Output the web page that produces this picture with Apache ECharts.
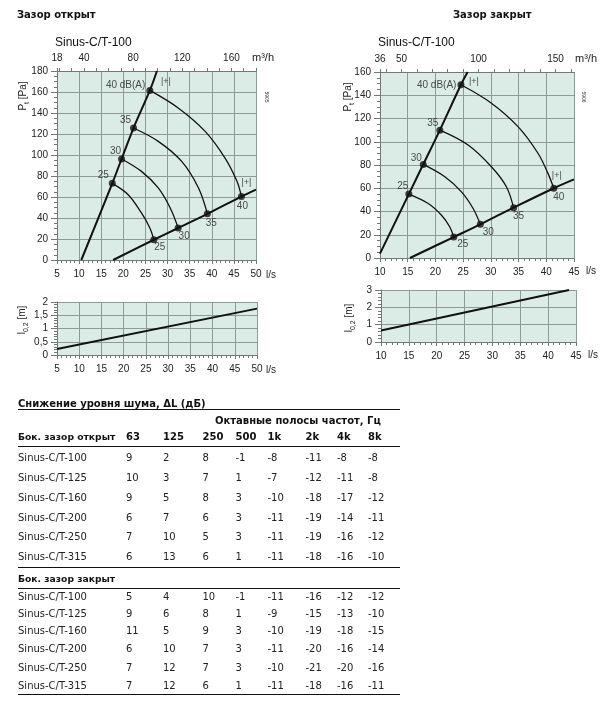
<!DOCTYPE html>
<html><head><meta charset="utf-8">
<script src="https://cdn.jsdelivr.net/npm/echarts@6/dist/echarts.min.js"></script>
<style>html,body{margin:0;padding:0;background:#fff}#c{width:612px;height:705px}</style>
</head><body><div id="c"></div>
<script>
// ---------- data ----------
const levels = [25, 30, 35, 40];
// open gap (Зазор открыт), l/s vs Pa
const openSteep = [[10.5,0],[17.5,73],[19.6,96.2],[22.3,125.7],[26.0,161.5],[27.6,180]];
const openLower = [[17.7,0],[26.9,19.3],[32.4,30.5],[39.0,44.0],[46.7,60.4],[50,67]];
const open25 = [[17.5,73],[21.1,62.2],[24.1,44.8],[26.0,30.5],[26.9,19.3]];
const open30 = [[19.6,96.2],[24.1,84.4],[27.9,68.6],[30.6,49.5],[32.4,30.5]];
const open35 = [[22.3,125.7],[27.9,113],[33.2,93.9],[37.0,68.6],[39.0,44.0]];
const open40 = [[26.0,161.5],[32.4,144.8],[38.5,122.5],[43.0,97.1],[45.7,74.9],[46.7,60.4]];
const openThrow = [[5,0.23],[50,1.75]];
// closed gap (Зазор закрыт)
const closedSteep = [[10,3.8],[15.2,55],[17.8,80.5],[20.8,110],[24.6,149],[25.8,160]];
const closedLower = [[15.4,0],[23.3,18],[28.1,29],[34.1,43.3],[41.35,60],[45,67.6]];
const closed25 = [[15.2,55],[18.7,46.9],[21.1,36.8],[22.6,26.7],[23.3,18]];
const closed30 = [[17.8,80.5],[21.7,69.9],[24.7,56.9],[26.8,42.6],[28.1,29]];
const closed35 = [[20.8,110],[25.9,97.2],[30.1,78.5],[32.8,61.3],[34.1,43.3]];
const closed40 = [[24.6,149],[30.1,133.2],[34.9,113],[38.5,90.1],[40.3,72.8],[41.35,60]];
const closedThrow = [[10,0.66],[43.75,3]];
// top axis labels (m3/h)
const openM3h = [18, 40, 80, 120, 160];
const closedM3h = [36, 50, 100, 150];
// table
const bands = ['63','125','250','500','1k','2k','4k','8k'];
const models = ['Sinus-C/T-100','Sinus-C/T-125','Sinus-C/T-160','Sinus-C/T-200','Sinus-C/T-250','Sinus-C/T-315'];
const openDL = [[9,2,8,-1,-8,-11,-8,-8],[10,3,7,1,-7,-12,-11,-8],[9,5,8,3,-10,-18,-17,-12],[6,7,6,3,-11,-19,-14,-11],[7,10,5,3,-11,-19,-16,-12],[6,13,6,1,-11,-18,-16,-10]];
const closedDL = [[5,4,10,-1,-11,-16,-12,-12],[9,6,8,1,-9,-15,-13,-10],[11,5,9,3,-10,-19,-18,-15],[6,10,7,3,-11,-20,-16,-14],[7,12,7,3,-10,-21,-20,-16],[7,12,6,1,-11,-18,-16,-11]];

// ---------- layout / style ----------
const F = "'Liberation Sans', Arial, sans-serif";
const TF = "'DejaVu Sans', Verdana, sans-serif";
const BG = '#dbebe6', GL = '#8d9a96', AX = '#6f7a76', TXT = '#222';
const colX = [126,163,202.5,235.5,267.5,305.5,337,368];
const rowsOpenY = [458.3,478.3,498.3,518.3,537.7,557.7];
const rowsClosedY = [597.7,614,631,649,668.7,686.7];

function xBottom(g, min, max){
  return {type:'value', gridIndex:g, position:'bottom', min, max, interval:5,
    axisLine:{show:true, onZero:false, lineStyle:{color:AX}},
    axisTick:{show:true, length:4, lineStyle:{color:AX}},
    minorTick:{show:true, splitNumber:5, length:3, lineStyle:{color:AX}},
    axisLabel:{fontSize:10, fontFamily:F, color:TXT, margin:9},
    splitLine:{show:true, lineStyle:{color:GL, width:1}}};
}
function xTop(g, min, max, labels){
  const ticks = [];
  for (let v = Math.ceil(min/10)*10; v <= max; v += 10) ticks.push(v);
  return {type:'value', gridIndex:g, position:'top', min, max,
    axisLine:{show:true, onZero:false, lineStyle:{color:AX}},
    axisTick:{show:true, length:3, customValues:[min].concat(ticks), lineStyle:{color:AX}},
    axisLabel:{fontSize:10, fontFamily:F, color:TXT, margin:8, customValues:labels},
    splitLine:{show:false}};
}
function yLeft(g, min, max, interval, split, fmt){
  return {type:'value', gridIndex:g, min, max, interval,
    axisLine:{show:true, onZero:false, lineStyle:{color:AX}},
    axisTick:{show:true, length:6, lineStyle:{color:AX}},
    minorTick:{show:true, splitNumber:split, length:3, lineStyle:{color:AX}},
    axisLabel:{fontSize:10, fontFamily:F, color:TXT, margin:9, formatter: fmt || (v => String(v))},
    splitLine:{show:true, lineStyle:{color:GL, width:1}}};
}
function line(data, xi, yi, w){
  return {type:'line', xAxisIndex:xi, yAxisIndex:yi, data, smooth:0.35, symbol:'none',
    lineStyle:{color:'#111', width:w}, silent:true, z:3, clip:true, animation:false};
}
function dots(arcs, xi, yi, topOff, botOff, topLabel40){
  const data = [];
  arcs.forEach((a, i) => {
    const top = a[0], bot = a[a.length-1];
    data.push({value: top, label: (i === 3) ?
      {show:true, formatter: topLabel40, position:'left', distance:1, offset:[0, topOff[3][1]], color:TXT, fontSize:10, fontFamily:F} :
      {show:true, formatter: String(levels[i]), position:'inside', offset: topOff[i], color:TXT, fontSize:10, fontFamily:F}});
    data.push({value: bot, label: {show:true, formatter: String(levels[i]), position:'inside', offset: botOff[i], color:TXT, fontSize:10, fontFamily:F}});
  });
  return {type:'scatter', xAxisIndex:xi, yAxisIndex:yi, data, symbolSize:7, itemStyle:{color:'#111'}, z:5, silent:true, animation:false};
}
function marks(arc, xi, yi, offTop, offBot){
  const top = arc[0], bot = arc[arc.length-1];
  const lab = (o) => ({show:true, formatter:'|+|', position:'inside', offset:o, color:TXT, fontSize:9, fontFamily:F});
  return {type:'scatter', xAxisIndex:xi, yAxisIndex:yi, symbolSize:1, itemStyle:{color:'rgba(0,0,0,0)'}, z:6, silent:true, animation:false,
    data:[{value:top, label:lab(offTop)}, {value:bot, label:lab(offBot)}]};
}

const openArcs = [open25, open30, open35, open40];
const closedArcs = [closed25, closed30, closed35, closed40];

// ---------- graphic (titles, axis names, table) ----------
const g = [];
function txt(x, y, text, o){
  o = o || {};
  g.push({type:'text', x, y, rotation:o.rot || 0, silent:true, style:{text, fill:o.color || '#111',
    fontSize:o.size || 10, fontFamily:o.family || F, fontWeight:o.weight || 'normal',
    align:o.align || 'left', verticalAlign:'middle', rich:o.rich}});
}
function hline(x1, x2, y, w){
  g.push({type:'line', silent:true, shape:{x1, y1:y, x2, y2:y}, style:{stroke:'#111', lineWidth:w || 1}});
}
// page titles
txt(17, 15, 'Зазор открыт', {family:TF, weight:'bold', size:10});
txt(453, 15, 'Зазор закрыт', {family:TF, weight:'bold', size:10});
txt(55, 43, 'Sinus-C/T-100', {size:12});
txt(378, 43, 'Sinus-C/T-100', {size:12});
// axis titles
const subRich = {s:{fontSize:7, fontFamily:F, fill:TXT, padding:[9,0,0,0]}, n:{fontSize:10, fontFamily:F, fill:TXT}};
txt(23, 96, '{n|P}{s|t}{n| [Pa]}', {rot:Math.PI/2, align:'center', rich:subRich});
txt(348, 97, '{n|P}{s|t}{n| [Pa]}', {rot:Math.PI/2, align:'center', rich:subRich});
txt(22, 320, '{n|l}{s|0,2}{n| [m]}', {rot:Math.PI/2, align:'center', rich:subRich});
txt(349, 318, '{n|l}{s|0,2}{n| [m]}', {rot:Math.PI/2, align:'center', rich:subRich});
txt(252, 58, 'm³/h', {size:11, color:TXT});
txt(575, 59, 'm³/h', {size:11, color:TXT});
txt(266, 275.7, 'l/s', {color:TXT});
txt(586, 271.7, 'l/s', {color:TXT});
txt(266, 370, 'l/s', {color:TXT});
txt(588, 355.3, 'l/s', {color:TXT});
txt(266, 97, '5905', {size:5, rot:-Math.PI/2, align:'center', color:'#333'});
txt(583, 97, '5906', {size:5, rot:-Math.PI/2, align:'center', color:'#333'});
// table
txt(18, 404, 'Снижение уровня шума, ΔL (дБ)', {family:TF, weight:'bold', size:10});
hline(18, 400, 409.5, 1);
txt(215, 421.7, 'Октавные полосы частот, Гц', {family:TF, weight:'bold', size:10});
txt(18, 437.7, 'Бок. зазор открыт', {family:TF, weight:'bold', size:9.2});
bands.forEach((b, j) => txt(colX[j], 437.7, b, {family:TF, weight:'bold', size:10}));
hline(18, 400, 446.5, 1);
models.forEach((m, i) => {
  txt(18, rowsOpenY[i], m, {family:TF, size:10, color:'#222'});
  openDL[i].forEach((v, j) => txt(colX[j], rowsOpenY[i], String(v), {family:TF, size:10, color:'#222'}));
});
hline(18, 400, 567.5, 1);
txt(18, 579.3, 'Бок. зазор закрыт', {family:TF, weight:'bold', size:9.2});
hline(18, 400, 588.5, 1);
models.forEach((m, i) => {
  txt(18, rowsClosedY[i], m, {family:TF, size:10, color:'#222'});
  closedDL[i].forEach((v, j) => txt(colX[j], rowsClosedY[i], String(v), {family:TF, size:10, color:'#222'}));
});
hline(18, 400, 694.5, 1);

const chart = echarts.init(document.getElementById('c'), null, {renderer:'canvas'});
chart.setOption({
  animation:false,
  backgroundColor:'#fff',
  grid:[
    {left:57, top:71, width:199, height:189, show:true, backgroundColor:BG, borderWidth:0},
    {left:380, top:72, width:194, height:186, show:true, backgroundColor:BG, borderWidth:0},
    {left:57, top:302, width:200, height:53, show:true, backgroundColor:BG, borderWidth:0},
    {left:381, top:290, width:195, height:52, show:true, backgroundColor:BG, borderWidth:0}
  ],
  xAxis:[
    xBottom(0, 5, 50),
    xTop(0, 18, 180, openM3h),
    xBottom(1, 10, 45),
    xTop(1, 36, 162, closedM3h),
    xBottom(2, 5, 50),
    xBottom(3, 10, 45)
  ],
  yAxis:[
    yLeft(0, 0, 180, 20, 4),
    yLeft(1, 0, 160, 20, 4),
    yLeft(2, 0, 2, 0.5, 5, v => String(v).replace('.', ',')),
    yLeft(3, 0, 3, 1, 5)
  ],
  series:[
    line(openSteep, 0, 0, 2), line(openLower, 0, 0, 2),
    ...openArcs.map(a => line(a, 0, 0, 1.3)),
    dots(openArcs, 0, 0, [[-9,-8],[-6,-8],[-8,-8],[0,-5]], [[6,8],[6,8],[4,9],[1,10]], '40 dB(A)'),
    marks(open40, 0, 0, [16,-9], [5,-14]),
    line(closedSteep, 2, 1, 2), line(closedLower, 2, 1, 2),
    ...closedArcs.map(a => line(a, 2, 1, 1.3)),
    dots(closedArcs, 2, 1, [[-6,-8],[-7,-6],[-7,-7],[0,0]], [[9,7],[8,8],[5,9],[5,9]], '40 dB(A)'),
    marks(closed40, 2, 1, [13,-3], [3,-13]),
    line(openThrow, 4, 2, 2),
    line(closedThrow, 5, 3, 2)
  ],
  graphic:g
});
</script></body></html>
